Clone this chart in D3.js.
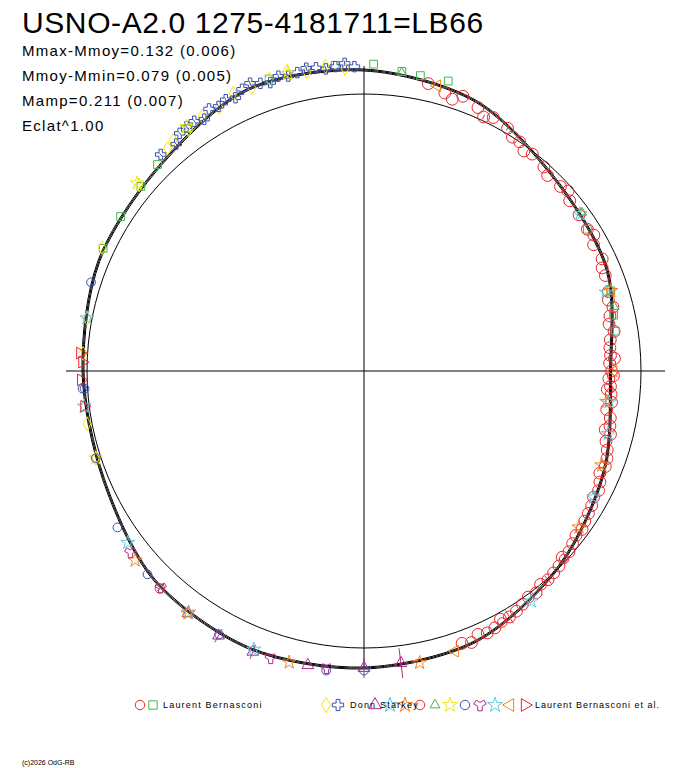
<!doctype html>
<html>
<head>
<script src="https://cdn.jsdelivr.net/npm/d3@7"></script>
<style>
body { margin:0; background:white; font-family:'Liberation Sans', Arial, sans-serif; }
</style>
</head>
<body>
<svg id="chart" width="688" height="768"></svg>
<script>
// fitted light curve: phase, magnitude offset from mean
const curvePhase = [0, 0.0625, 0.125, 0.1875, 0.25, 0.3125, 0.375, 0.4375, 0.5, 0.5625, 0.625, 0.6875, 0.75, 0.8125, 0.875, 0.9375];
const curveMag = [0.096, 0.06, -0.025, -0.055, -0.122, -0.068, -0.004, 0.062, 0.08, 0.092, 0.076, 0.02, 0.016, 0.04, 0.05, 0.11];

// observations [phase, mag, err]
const lbCircles = [[0.035,0.07,0],[0.045,0.05,0],[0.05,0.035,0],[0.055,0.06,0],[0.065,0.04,0],[0.07,0.015,0.01],[0.075,0.03,0],[0.085,0.02,0.01],[0.09,0.0,0],[0.095,0.0,0],[0.1,-0.02,0],[0.105,-0.01,0],[0.115,-0.02,0],[0.12,-0.035,0],[0.13,-0.03,0],[0.135,-0.02,0],[0.14,-0.04,0],[0.15,-0.045,0],[0.16,-0.05,0],[0.165,-0.04,0],[0.17,-0.06,0],[0.18,-0.055,0],[0.185,-0.07,0],[0.19,-0.07,0],[0.2,-0.08,0],[0.205,-0.09,0],[0.21,-0.08,0],[0.215,-0.1,0],[0.22,-0.11,0],[0.225,-0.095,0],[0.23,-0.115,0],[0.235,-0.12,0],[0.24,-0.12,0],[0.242,-0.105,0],[0.245,-0.125,0],[0.25,-0.118,0],[0.253,-0.11,0],[0.255,-0.128,0],[0.26,-0.12,0],[0.262,-0.132,0],[0.265,-0.115,0],[0.27,-0.11,0],[0.275,-0.125,0],[0.28,-0.105,0],[0.285,-0.1,0],[0.288,-0.115,0],[0.29,-0.09,0],[0.295,-0.1,0],[0.3,-0.085,0],[0.305,-0.075,0],[0.31,-0.07,0],[0.315,-0.08,0],[0.32,-0.065,0],[0.325,-0.055,0],[0.33,-0.06,0],[0.335,-0.05,0],[0.34,-0.045,0],[0.345,-0.04,0],[0.35,-0.03,0],[0.355,-0.035,0],[0.36,-0.025,0],[0.365,-0.015,0],[0.37,-0.02,0],[0.375,-0.005,0],[0.38,0.0,0],[0.385,0.005,0.02],[0.39,0.0,0],[0.395,0.015,0],[0.4,0.01,0],[0.405,0.02,0],[0.41,0.03,0],[0.415,0.035,0.03],[0.42,0.025,0],[0.425,0.045,0],[0.43,0.05,0],[0.435,0.04,0],[0.44,0.06,0],[0.445,0.05,0]];
const lbSquares = [[0.005,0.12,0],[0.02,0.1,0],[0.03,0.095,0],[0.045,0.1,0],[0.16,-0.05,0],[0.2,-0.07,0],[0.215,-0.085,0],[0.225,-0.09,0],[0.82,0.045,0],[0.84,0.045,0],[0.86,0.05,0],[0.875,0.06,0],[0.9,0.09,0],[0.95,0.12,0],[0.985,0.12,0]];
const dsDiamonds = [[0.7,0.02,0],[0.72,0.02,0],[0.76,0.018,0],[0.78,0.02,0],[0.82,0.05,0],[0.86,0.06,0],[0.885,0.08,0],[0.89,0.09,0],[0.9,0.085,0],[0.91,0.1,0],[0.92,0.095,0],[0.93,0.12,0],[0.94,0.11,0],[0.95,0.12,0],[0.96,0.13,0],[0.97,0.11,0],[0.98,0.12,0],[0.99,0.105,0]];
const dsStars = [[0.88,0.08,0.01],[0.89,0.07,0.01],[0.895,0.095,0.01],[0.9,0.1,0.01],[0.905,0.1,0.01],[0.91,0.085,0.01],[0.915,0.11,0],[0.92,0.1,0.01],[0.925,0.11,0.01],[0.93,0.1,0.01],[0.935,0.12,0],[0.94,0.13,0.01],[0.945,0.115,0],[0.95,0.105,0.01],[0.955,0.12,0.01],[0.96,0.11,0.01],[0.965,0.115,0],[0.97,0.125,0.01],[0.975,0.12,0],[0.98,0.11,0.01],[0.985,0.115,0],[0.99,0.125,0.01],[0.995,0.11,0]];
const lbaTriangles = [[0.48,0.07,0.06],[0.5,0.08,0.04],[0.53,0.09,0],[0.56,0.1,0.03],[0.58,0.1,0.03],[0.6,0.09,0]];
const lbaCyanStars = [[0.15,-0.04,0],[0.2,-0.09,0],[0.27,-0.12,0],[0.29,-0.1,0],[0.33,-0.06,0],[0.4,0.03,0],[0.56,0.09,0],[0.6,0.085,0],[0.65,0.06,0],[0.73,0.02,0],[0.78,0.02,0]];
const lbaOrange = [[0.2,-0.07,0],[0.27,-0.13,0],[0.31,-0.085,0],[0.35,-0.045,0],[0.47,0.08,0],[0.54,0.095,0],[0.6,0.09,0],[0.64,0.08,0]];
const lbaPentagons = [[0.37,-0.01,0],[0.42,0.04,0],[0.62,0.085,0]];
const lbaGreenTri = [[0.02,0.095,0],[0.15,-0.03,0],[0.21,-0.075,0]];
const lbaYellowStar = [[0.86,0.07,0],[0.9,0.1,0],[0.96,0.12,0],[0.7,0.02,0]];
const lbaHex = [[0.5,0.09,0],[0.52,0.1,0],[0.58,0.095,0],[0.63,0.08,0],[0.66,0.06,0],[0.7,0.02,0],[0.74,0.02,0],[0.8,0.04,0],[0.74,0.012,0]];
const lbaMagStar = [[0.52,0.09,0],[0.55,0.1,0],[0.62,0.08,0.02],[0.645,0.075,0]];
const lbaLeftTri = [[0.04,0.07,0],[0.25,-0.11,0],[0.45,0.07,0]];
const lbaRightTri = [[0.73,0.02,0],[0.745,0.025,0],[0.755,0.02,0],[0.76,0.03,0]];

const cx = 364, cy = 371, R0 = 277;
const svg = d3.select('#chart');
const rScale = d3.scaleLinear().domain([0, 0.1]).range([R0, R0 + 25]);
const aScale = d3.scaleLinear().domain([0, 1]).range([0, 2 * Math.PI]);
const pos = (p, m) => [cx + rScale(m) * Math.sin(aScale(p)), cy - rScale(m) * Math.cos(aScale(p))];

// axes
svg.append('line').attr('x1', 66).attr('x2', 665).attr('y1', cy).attr('y2', cy).attr('stroke', '#000');
svg.append('line').attr('x1', cx).attr('x2', cx).attr('y1', 66).attr('y2', 668).attr('stroke', '#000');
svg.append('circle').attr('cx', cx).attr('cy', cy).attr('r', R0).attr('fill', 'none').attr('stroke', '#000');

// fitted curve (drawn with slight offsets like overlapping fits)
const line = d3.line().curve(d3.curveCardinalClosed.tension(0.1));
[-0.004, 0, 0.004].forEach(off => {
  svg.append('path')
    .attr('d', line(curvePhase.map((p, i) => pos(p, curveMag[i] + off))))
    .attr('fill', 'none').attr('stroke', '#000').attr('stroke-width', 1);
});

const series = [
  { data: lbCircles, type: d3.symbolCircle, color: '#e8262b', size: 110 },
  { data: lbSquares, type: d3.symbolSquare, color: '#46b649', size: 60 },
  { data: dsDiamonds, type: d3.symbolDiamond, color: '#f5e615', size: 55 },
  { data: dsStars, type: d3.symbolCross, color: '#3a4fb0', size: 60 },
  { data: lbaTriangles, type: d3.symbolTriangle, color: '#b52a8a', size: 60 },
  { data: lbaCyanStars, type: d3.symbolStar, color: '#5ec8e0', size: 60 },
  { data: lbaOrange, type: d3.symbolStar, color: '#f58220', size: 60 },
  { data: lbaPentagons, type: d3.symbolCircle, color: '#e8262b', size: 70 },
  { data: lbaGreenTri, type: d3.symbolTriangle2, color: '#46b649', size: 60 },
  { data: lbaYellowStar, type: d3.symbolStar, color: '#f5e615', size: 60 },
  { data: lbaHex, type: d3.symbolCircle, color: '#3a4fb0', size: 60 },
  { data: lbaMagStar, type: d3.symbolWye, color: '#b52a8a', size: 60 },
  { data: lbaLeftTri, type: d3.symbolTriangle, color: '#f58220', size: 60, rot: -90 },
  { data: lbaRightTri, type: d3.symbolTriangle, color: '#e8262b', size: 60, rot: 90 }
];

series.forEach(s => {
  const g = svg.append('g');
  // error bars, radial
  g.selectAll('line').data(s.data.filter(d => d[2] > 0)).enter().append('line')
    .attr('x1', d => pos(d[0], d[1] - d[2])[0]).attr('y1', d => pos(d[0], d[1] - d[2])[1])
    .attr('x2', d => pos(d[0], d[1] + d[2])[0]).attr('y2', d => pos(d[0], d[1] + d[2])[1])
    .attr('stroke', s.color);
  g.selectAll('path').data(s.data).enter().append('path')
    .attr('d', d3.symbol().type(s.type).size(s.size))
    .attr('transform', d => `translate(${pos(d[0], d[1])}) rotate(${s.rot || 0})`)
    .attr('fill', 'none').attr('stroke', s.color).attr('stroke-width', 1);
});

// title and stats
svg.append('text').attr('x', 22).attr('y', 33).attr('font-size', 30).attr('letter-spacing', 0.6).text('USNO-A2.0 1275-4181711=LB66');
['Mmax-Mmoy=0.132 (0.006)', 'Mmoy-Mmin=0.079 (0.005)', 'Mamp=0.211 (0.007)', 'Eclat^1.00'].forEach((t, i) => {
  svg.append('text').attr('x', 22).attr('y', 56 + i * 25).attr('font-size', 15).attr('letter-spacing', 1.3).text(t);
});

// legend
const leg = svg.append('g').attr('font-size', 9);
const legTypes = [[d3.symbolCircle, '#e8262b', 0], [d3.symbolSquare, '#46b649', 0], [d3.symbolDiamond, '#f5e615', 0], [d3.symbolCross, '#3a4fb0', 0],
  [d3.symbolTriangle, '#b52a8a', 0], [d3.symbolStar, '#5ec8e0', 0], [d3.symbolStar, '#f58220', 0], [d3.symbolCircle, '#e8262b', 0],
  [d3.symbolTriangle2, '#46b649', 0], [d3.symbolStar, '#f5e615', 0], [d3.symbolCircle, '#3a4fb0', 0], [d3.symbolWye, '#b52a8a', 0],
  [d3.symbolStar, '#5ec8e0', 0], [d3.symbolTriangle, '#f58220', -90], [d3.symbolTriangle, '#e8262b', 90]];
const legX = [140, 153, 326, 338, 375, 390, 405, 420, 435, 450, 465, 480, 495, 510, 525];
legTypes.forEach((s, i) => {
  leg.append('path').attr('d', d3.symbol().type(s[0]).size(70))
    .attr('transform', `translate(${legX[i]},705) rotate(${s[2]})`)
    .attr('fill', 'none').attr('stroke', s[1]);
});
leg.append('text').attr('x', 163).attr('y', 708).attr('letter-spacing', 1.2).text('Laurent Bernasconi');
leg.append('text').attr('x', 350).attr('y', 708).attr('letter-spacing', 1.2).text('Donn Starkey');
leg.append('text').attr('x', 535).attr('y', 708).attr('letter-spacing', 1).text('Laurent Bernasconi et al.');
svg.append('text').attr('x', 22).attr('y', 765).attr('font-size', 7).text('(c)2026 OdG-RB');
</script>
</body>
</html>
